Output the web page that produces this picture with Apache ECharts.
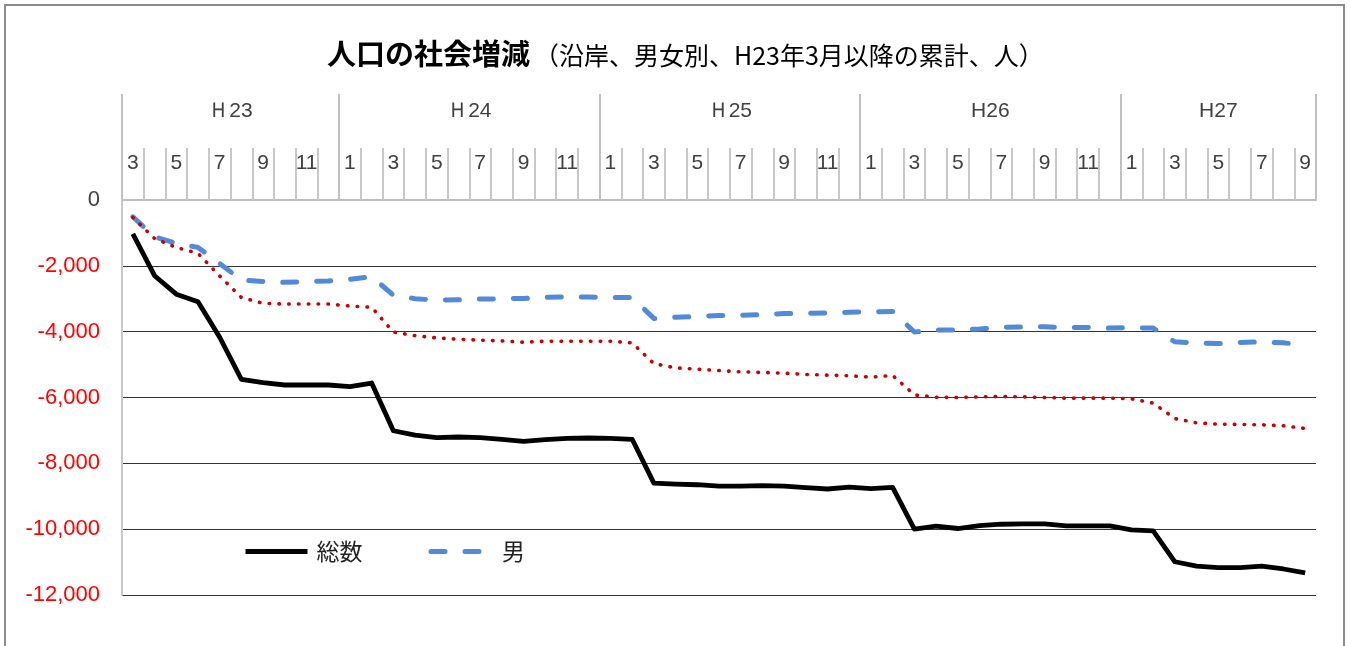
<!DOCTYPE html>
<html><head><meta charset="utf-8">
<script src="https://cdn.jsdelivr.net/npm/echarts@6/dist/echarts.min.js"></script>
<style>
html,body{margin:0;padding:0;background:#fff;overflow:hidden;width:1351px;height:646px;}
#frame{position:absolute;left:4px;top:4px;width:1341px;height:700px;border:2px solid #8c8c8c;border-bottom:none;box-sizing:border-box;}
#chart{position:absolute;left:0;top:0;width:1351px;height:646px;}
</style></head><body>
<div id="frame"></div>
<div id="chart"></div>
<script>
// ---- data ----
const titleMain = '人口の社会増減';
const titleSub = '（沿岸、男女別、H23年3月以降の累計、人）';
const years = ['Ｈ23', 'Ｈ24', 'Ｈ25', 'H26', 'H27'];
const monthsH23 = ['3','4','5','6','7','8','9','10','11','12'];
const monthsH24 = ['1','2','3','4','5','6','7','8','9','10','11','12'];
const monthsH25 = ['1','2','3','4','5','6','7','8','9','10','11','12'];
const monthsH26 = ['1','2','3','4','5','6','7','8','9','10','11','12'];
const monthsH27 = ['1','2','3','4','5','6','7','8','9'];
const seriesNames = ['総数', '男', '女'];
const legendNames = ['総数', '男'];
const total = [
  -1030, -2300, -2860, -3090, -4170, -5450, -5550, -5620, -5620, -5620,
  -5670, -5560, -7010, -7140, -7220, -7200, -7220, -7270, -7330, -7280, -7240, -7230,
  -7240, -7270, -8600, -8630, -8650, -8690, -8690, -8680, -8690, -8740, -8780, -8720,
  -8770, -8730, -10000, -9910, -9980, -9890, -9850, -9840, -9840, -9900, -9900, -9900,
  -10020, -10050, -10990, -11120, -11170, -11170, -11120, -11210, -11330
];
const male = [
  -510, -1120, -1320, -1440, -1930, -2430, -2480, -2500, -2480, -2460,
  -2410, -2330, -2890, -3000, -3040, -3030, -3010, -3000, -2990, -2960, -2940, -2950,
  -2960, -2960, -3600, -3560, -3540, -3510, -3500, -3480, -3450, -3440, -3430, -3410,
  -3400, -3390, -4010, -3950, -3950, -3920, -3870, -3860, -3850, -3880, -3870, -3890,
  -3880, -3890, -4310, -4340, -4360, -4330, -4310, -4340, -4410
];
const female = [
  -530, -1170, -1440, -1620, -2310, -2960, -3140, -3160, -3160, -3160,
  -3220, -3260, -4010, -4120, -4190, -4230, -4260, -4280, -4320, -4290, -4290, -4290,
  -4290, -4340, -4970, -5100, -5140, -5180, -5220, -5240, -5260, -5300, -5320, -5340,
  -5380, -5330, -5920, -5990, -6000, -5980, -5970, -5980, -6000, -6020, -6020, -6020,
  -6040, -6170, -6640, -6770, -6810, -6820, -6830, -6860, -6940
];
const yMin = -12000, yMax = 0, yStep = 2000;

// ---- derived ----
const monthGroups = [monthsH23, monthsH24, monthsH25, monthsH26, monthsH27];
const categories = [];
monthGroups.forEach((g, gi) => g.forEach(m => categories.push(years[gi] + '-' + m)));
const bounds = [0];
monthGroups.forEach(g => bounds.push(bounds[bounds.length - 1] + g.length));
const centers = monthGroups.map((g, i) => (bounds[i] + bounds[i + 1]) / 2);
const nCat = categories.length;

function fmtNum(v) {
  v = Number(v);
  if (v === 0) return '0';
  const s = String(Math.abs(v)).replace(/\B(?=(\d{3})+(?!\d))/g, ',');
  return (v < 0 ? '-' : '') + s;
}

const chart = echarts.init(document.getElementById('chart'));
chart.setOption({
  animation: false,
  backgroundColor: 'transparent',
  title: {
    text: '{a|' + titleMain + '}{b|' + titleSub + '}',
    left: 322, top: 30,
    textStyle: {
      rich: {
        a: { fontFamily: 'Noto Sans CJK JP', fontWeight: 'bold', fontSize: 29, color: '#000', lineHeight: 38 },
        b: { fontFamily: 'Noto Sans CJK JP', fontWeight: 'normal', fontSize: 25, color: '#000', lineHeight: 38, padding: [3, 0, 0, 4] }
      }
    }
  },
  legend: {
    data: legendNames,
    left: 238, top: 535,
    itemWidth: 62, itemHeight: 14, itemGap: 66,
    itemStyle: { opacity: 0 },
    lineStyle: { width: 5 },
    textStyle: { fontFamily: 'Noto Sans CJK JP', fontSize: 23, color: '#222', padding: [0, 0, 0, 4] }
  },
  grid: { left: 122, right: 35, top: 200, bottom: 51, containLabel: false },
  xAxis: [
    {
      type: 'category', position: 'top', data: categories, boundaryGap: true,
      axisLine: { show: true, lineStyle: { color: '#bdbdbd', width: 2 } },
      axisTick: { show: true, interval: 0, length: 52, lineStyle: { color: '#c8c8c8', width: 2 } },
      axisLabel: {
        interval: 1, margin: 26, fontSize: 21, color: '#404040',
        fontFamily: 'Liberation Sans',
        formatter: v => v.split('-')[1]
      },
      splitLine: { show: false }
    },
    {
      type: 'value', position: 'top', min: 0, max: nCat,
      axisLine: { show: false },
      axisTick: { show: true, customValues: bounds, length: 106, lineStyle: { color: '#c0c0c0', width: 2 } },
      axisLabel: {
        customValues: centers, margin: 78, fontSize: 21, color: '#404040',
        fontFamily: 'Liberation Sans',
        formatter: v => years[centers.indexOf(Number(v))] || ''
      },
      splitLine: { show: false }
    }
  ],
  yAxis: {
    type: 'value', min: yMin, max: yMax, interval: yStep,
    axisLine: { show: true, lineStyle: { color: '#c8c8c8', width: 2 } },
    axisTick: { show: false },
    axisLabel: {
      margin: 22, fontSize: 22, fontFamily: 'Liberation Sans',
      color: v => Number(v) === 0 ? '#404040' : '#ff0000',
      formatter: fmtNum
    },
    splitLine: { show: true, lineStyle: { color: ['#333', '#333', '#333', '#333', '#333', '#333', '#bdbdbd'], width: 1.2 } }
  },
  series: [
    {
      name: seriesNames[0], type: 'line', data: total, xAxisIndex: 0,
      symbol: 'none', z: 4,
      lineStyle: { color: '#000', width: 4.8, join: 'round' },
      itemStyle: { color: '#000' }
    },
    {
      name: seriesNames[1], type: 'line', data: male, xAxisIndex: 0,
      symbol: 'none', z: 3,
      lineStyle: { color: '#5289d8', width: 5, type: [14, 20], cap: 'round', join: 'round' },
      itemStyle: { color: '#5289d8' }
    },
    {
      name: seriesNames[2], type: 'line', data: female, xAxisIndex: 0,
      symbol: 'none', z: 3,
      lineStyle: { color: '#c80000', width: 3.6, type: [0.5, 9.3], cap: 'round' },
      itemStyle: { color: '#c80000' }
    }
  ]
});
</script>
</body></html>
